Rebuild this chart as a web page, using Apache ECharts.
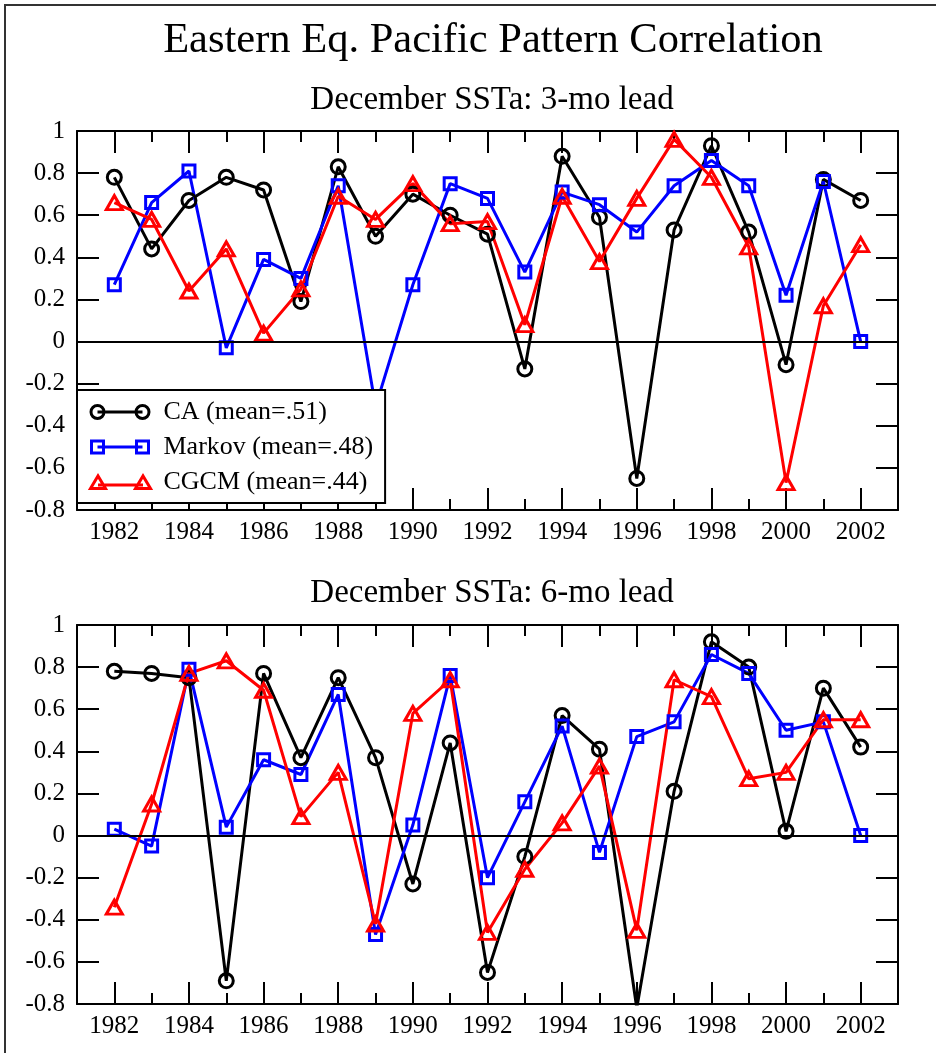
<!DOCTYPE html>
<html><head><meta charset="utf-8">
<script src="https://cdn.jsdelivr.net/npm/echarts@6/dist/echarts.min.js"></script>
<style>html,body{margin:0;padding:0;background:#fff}#c{width:936px;height:1053px}</style>
</head><body><div id="c"></div>
<script>
// ---- data ----
const years = [1982,1983,1984,1985,1986,1987,1988,1989,1990,1991,1992,1993,1994,1995,1996,1997,1998,1999,2000,2001,2002];
const xTickLabels = [1982,1984,1986,1988,1990,1992,1994,1996,1998,2000,2002];
const xMinorTicks = [1983,1985,1987,1989,1991,1993,1995,1997,1999,2001];
const yTicks = [-0.8,-0.6,-0.4,-0.2,0,0.2,0.4,0.6,0.8,1];
const seriesNames = ['CA (mean=.51)', 'Markov (mean=.48)', 'CGCM (mean=.44)'];
const panelTitles = ['December SSTa: 3-mo lead', 'December SSTa: 6-mo lead'];
const mainTitle = 'Eastern Eq. Pacific Pattern Correlation';

// 3-month lead
const ca3     = [0.78, 0.44, 0.67, 0.78, 0.72, 0.19, 0.83, 0.50, 0.70, 0.60, 0.51, -0.13, 0.88, 0.59, -0.65, 0.53, 0.93, 0.52, -0.11, 0.77, 0.67];
const markov3 = [0.27, 0.66, 0.81, -0.03, 0.39, 0.30, 0.74, -0.31, 0.27, 0.75, 0.68, 0.33, 0.71, 0.65, 0.52, 0.74, 0.86, 0.74, 0.22, 0.76, 0.00];
const cgcm3   = [0.66, 0.58, 0.24, 0.44, 0.04, 0.25, 0.69, 0.58, 0.75, 0.56, 0.57, 0.08, 0.69, 0.38, 0.68, 0.96, 0.78, 0.45, -0.67, 0.17, 0.46];
// 6-month lead
const ca6     = [0.78, 0.77, 0.75, -0.69, 0.77, 0.37, 0.75, 0.37, -0.23, 0.44, -0.65, -0.10, 0.57, 0.41, -0.82, 0.21, 0.92, 0.80, 0.02, 0.70, 0.42];
const markov6 = [0.03, -0.05, 0.79, 0.04, 0.36, 0.29, 0.67, -0.47, 0.05, 0.76, -0.20, 0.16, 0.52, -0.08, 0.47, 0.54, 0.86, 0.77, 0.50, 0.54, 0.00];
const cgcm6   = [-0.34, 0.15, 0.77, 0.83, 0.69, 0.09, 0.30, -0.42, 0.58, 0.74, -0.46, -0.16, 0.06, 0.33, -0.45, 0.74, 0.66, 0.27, 0.30, 0.55, 0.55];

// ---- styling ----
const FONT = '"Liberation Serif", "Times New Roman", serif';
const colors = ['#000000', '#0000ff', '#ff0000'];
const symbols = ['circle', 'rect', 'triangle'];
const symbolSizes = [14, 12, [16, 14]];
const legendIcons = [
  'path://M0.5,7A6.5,6.5 0 1,1 13.5,7A6.5,6.5 0 1,1 0.5,7Z M7,7L52,7 M45.5,7A6.5,6.5 0 1,1 58.5,7A6.5,6.5 0 1,1 45.5,7Z M0,0 M68,14',
  'path://M1,1L13,1L13,13L1,13Z M7,7L52,7 M46,1L58,1L58,13L46,13Z M0,0 M68,14',
  'path://M0,13.5L7.5,1L15,13.5Z M7.5,10L52.5,10 M45,13.5L52.5,1L60,13.5Z M0,0 M68,14'
];

const gridLeft = 77, gridW = 821, gridH = 379;
const gridTops = [131, 625];
const xMin = 1981, xMax = 2003;

const grids = [], xAxes = [], yAxes = [], series = [];
const lineAxis = {show: true, onZero: false, lineStyle: {color: '#000', width: 2}};

function pairs(vals) { return years.map((y, i) => [y, vals[i]]); }

[[ca3, markov3, cgcm3], [ca6, markov6, cgcm6]].forEach((panel, g) => {
  grids.push({left: gridLeft, top: gridTops[g], width: gridW, height: gridH, containLabel: false});
  const xBase = {type: 'value', gridIndex: g, min: xMin, max: xMax, splitLine: {show: false}, axisLabel: {show: false}};
  xAxes.push(Object.assign({}, xBase, {
    position: 'bottom', axisLine: lineAxis,
    axisTick: {show: true, inside: true, length: 22, customValues: xTickLabels, lineStyle: {color: '#000', width: 2}},
    axisLabel: {show: true, customValues: xTickLabels, margin: 10, color: '#000', fontFamily: FONT, fontSize: 25,
      formatter: v => String(Math.round(v))}
  }));
  xAxes.push(Object.assign({}, xBase, {
    position: 'bottom', axisLine: {show: false, onZero: false},
    axisTick: {show: true, inside: true, length: 11, customValues: xMinorTicks, lineStyle: {color: '#000', width: 2}}
  }));
  xAxes.push(Object.assign({}, xBase, {
    position: 'top', axisLine: lineAxis,
    axisTick: {show: true, inside: true, length: 22, customValues: xTickLabels, lineStyle: {color: '#000', width: 2}}
  }));
  xAxes.push(Object.assign({}, xBase, {
    position: 'top', axisLine: {show: false, onZero: false},
    axisTick: {show: true, inside: true, length: 11, customValues: xMinorTicks, lineStyle: {color: '#000', width: 2}}
  }));
  const yBase = {type: 'value', gridIndex: g, min: yTicks[0], max: yTicks[yTicks.length - 1], interval: 0.2,
    splitLine: {show: false}, axisLine: lineAxis,
    axisTick: {show: true, inside: true, length: 22, lineStyle: {color: '#000', width: 2}}};
  yAxes.push(Object.assign({}, yBase, {
    position: 'left',
    axisLabel: {show: true, margin: 12, color: '#000', fontFamily: FONT, fontSize: 25,
      formatter: v => String(+(+v).toFixed(1))}
  }));
  yAxes.push(Object.assign({}, yBase, {position: 'right', axisLabel: {show: false}}));

  panel.forEach((vals, k) => {
    const s = {
      type: 'line', name: seriesNames[k], xAxisIndex: 4 * g, yAxisIndex: 2 * g,
      data: pairs(vals), clip: true, animation: false,
      symbol: symbols[k], symbolSize: symbolSizes[k], showAllSymbol: true,
      lineStyle: {color: colors[k], width: 3},
      itemStyle: {color: 'rgba(0,0,0,0)', borderColor: colors[k], borderWidth: 3},
      emphasis: {disabled: true}
    };
    if (k === 0) {
      s.markLine = {silent: true, symbol: 'none', animation: false, label: {show: false},
        lineStyle: {color: '#000', width: 2, type: 'solid'}, data: [{yAxis: 0}]};
    }
    series.push(s);
  });
});

const option = {
  backgroundColor: '#fff',
  animation: false,
  title: [
    {text: mainTitle, left: 488, top: 14, textAlign: 'center',
      textStyle: {fontFamily: FONT, fontSize: 42.5, fontWeight: 'normal', color: '#000'}},
    {text: panelTitles[0], left: 487, top: 79, textAlign: 'center',
      textStyle: {fontFamily: FONT, fontSize: 33, fontWeight: 'normal', color: '#000'}},
    {text: panelTitles[1], left: 487, top: 572, textAlign: 'center',
      textStyle: {fontFamily: FONT, fontSize: 33, fontWeight: 'normal', color: '#000'}}
  ],
  legend: {
    orient: 'vertical', left: 77, top: 390,
    backgroundColor: '#fff', borderColor: '#000', borderWidth: 2,
    padding: [9, 12, 8, 12], itemGap: 9, itemWidth: 68, itemHeight: 14,
    selectedMode: false,
    textStyle: {fontFamily: FONT, fontSize: 26, color: '#000'},
    data: seriesNames.map((n, k) => ({
      name: n, icon: legendIcons[k],
      itemStyle: {color: 'rgba(0,0,0,0)', borderColor: colors[k], borderWidth: 3}
    }))
  },
  grid: grids, xAxis: xAxes, yAxis: yAxes, series: series,
  graphic: [{type: 'rect', silent: true, z: 100,
    shape: {x: 5, y: 5, width: 1000, height: 1100},
    style: {fill: 'none', stroke: '#333', lineWidth: 2}}]
};

const chart = echarts.init(document.getElementById('c'), null, {renderer: 'canvas'});
chart.setOption(option);
</script></body></html>
